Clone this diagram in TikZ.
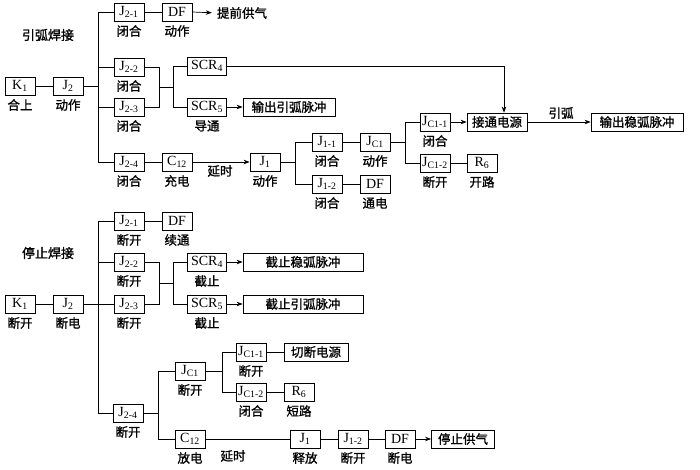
\documentclass[tikz,border=0pt]{standalone}
\usepackage{fontspec}
\setmainfont{Liberation Serif}
\newfontfamily\cjk{Noto Sans CJK SC}[FakeBold=1.2]
\usetikzlibrary{arrows.meta,calc}
\newcommand\jb[4]{\node[box] (#1) at (#2) {#3}; \node[lbl] (#1l) at ($(#1)+(0,19)$) {#4};}
\begin{document}
\begin{tikzpicture}[x=1pt,y=-1pt,
  box/.style={draw,line width=0.8pt,minimum width=30pt,minimum height=18pt,inner sep=1pt,font=\fontsize{14}{14}\selectfont},
  cbox/.style={draw,line width=0.8pt,minimum height=18pt,inner sep=1pt,font=\cjk\fontsize{12.5}{12.5}\selectfont},
  lbl/.style={inner sep=0pt,font=\cjk\fontsize{12.5}{12.5}\selectfont},
  ttl/.style={inner sep=0pt,font=\cjk\fontsize{13}{13}\selectfont},
  ln/.style={line width=0.7pt},
  arr/.style={ln,-{Stealth[length=6pt,width=4.5pt]}},
]
\fill[white] (0,0) rectangle (700,470);
\useasboundingbox (0,0) rectangle (700,470);

% ---------------- top: 引弧焊接 ----------------
\node[ttl] (t1) at (48,35) {引弧焊接};
\jb{K1a}{20,86}{K\textsubscript{1}}{合上}
\jb{J2a}{68,86}{J\textsubscript{2}}{动作}
\jb{J21a}{129,12}{J\textsubscript{2-1}}{闭合}
\jb{DFa}{177,12}{DF}{动作}
\node[lbl] (gas1) at (242,13) {提前供气};
\jb{J22a}{129,67}{J\textsubscript{2-2}}{闭合}
\jb{J23a}{129,107}{J\textsubscript{2-3}}{闭合}
\node[box,minimum width=39pt] (S4a) at (207,66) {SCR\textsubscript{4}};
\node[box,minimum width=39pt] (S5a) at (207,107) {SCR\textsubscript{5}};
\node[lbl] (S5al) at (207,126) {导通};
\node[cbox,minimum width=92pt] (outA) at (289,107) {输出引弧脉冲};
\jb{J24a}{129,162}{J\textsubscript{2-4}}{闭合}
\jb{C12a}{177,162}{C\textsubscript{12}}{充电}
\jb{J1a}{265,162}{J\textsubscript{1}}{动作}
\node[lbl] (d1) at (220,171) {延时};
\jb{J11a}{327,142}{J\textsubscript{1-1}}{闭合}
\jb{J12a}{327,184}{J\textsubscript{1-2}}{闭合}
\jb{JC1a}{375,142}{J\textsubscript{C1}}{动作}
\jb{DFb}{375,184}{DF}{通电}
\jb{JC11a}{435,122}{J\textsubscript{C1-1}}{闭合}
\jb{JC12a}{435,163}{J\textsubscript{C1-2}}{断开}
\jb{R6a}{482,163}{R\textsubscript{6}}{开路}
\node[cbox,minimum width=60pt] (pw) at (497,122) {接通电源};
\node[cbox,minimum width=92pt] (outB) at (637,122) {输出稳弧脉冲};
\node[lbl] (yh) at (561,113) {引弧};

\coordinate (trA) at (98,86);
\draw[ln] (K1a) -- (J2a);
\draw[ln] (J2a.east) -- (trA);
\draw[ln] (J21a.west) -| (trA);
\draw[ln] (J24a.west) -| (trA);
\draw[ln] (J22a.west) -- (J22a.west -| trA);
\draw[ln] (J23a.west) -- (J23a.west -| trA);
\draw[ln] (J21a) -- (DFa);
\draw[arr,shorten >=5pt] (DFa.east) -- (gas1.west);
\coordinate (jA) at (159,87);
\coordinate (jA2) at (173,87);
\draw[ln] (J22a.east) -| (jA);
\draw[ln] (J23a.east) -| (jA);
\draw[ln] (jA) -- (jA2);
\draw[ln] (S4a.west) -| (jA2);
\draw[ln] (S5a.west) -| (jA2);
\draw[arr] (S5a.east) -- (outA.west);
\coordinate (pwin) at ($(pw.north)+(7,0)$);
\draw[arr] (S4a.east) -| (pwin);
\draw[ln] (J24a) -- (C12a);
\draw[arr] (C12a.east) -- (J1a.west);
\coordinate (jB) at (295,162);
\draw[ln] (J1a.east) -- (jB);
\draw[ln] (J11a.west) -| (jB);
\draw[ln] (J12a.west) -| (jB);
\draw[ln] (J11a) -- (JC1a);
\draw[ln] (J12a) -- (DFb);
\coordinate (jC) at (405,142);
\draw[ln] (JC1a.east) -- (jC);
\draw[ln] (JC11a.west) -| (jC);
\draw[ln] (JC12a.west) -| (jC);
\draw[arr] (JC11a.east) -- (pw.west);
\draw[ln] (JC12a) -- (R6a);
\draw[arr] (pw.east) -- (outB.west);

% ---------------- bottom: 停止焊接 ----------------
\node[ttl] (t2) at (48,253) {停止焊接};
\jb{K1b}{20,304}{K\textsubscript{1}}{断开}
\jb{J2b}{68,304}{J\textsubscript{2}}{断电}
\jb{J21b}{129,221}{J\textsubscript{2-1}}{断开}
\jb{DFc}{177,221}{DF}{续通}
\jb{J22b}{129,262}{J\textsubscript{2-2}}{断开}
\jb{J23b}{129,304}{J\textsubscript{2-3}}{断开}
\node[box,minimum width=39pt] (S4b) at (207,262) {SCR\textsubscript{4}};
\node[lbl] (S4bl) at (207,281) {截止};
\node[box,minimum width=39pt] (S5b) at (207,304) {SCR\textsubscript{5}};
\node[lbl] (S5bl) at (207,323) {截止};
\node[cbox,minimum width=120pt] (cut1) at (303,262) {截止稳弧脉冲};
\node[cbox,minimum width=120pt] (cut2) at (303,304) {截止引弧脉冲};
\jb{J24b}{128,413}{J\textsubscript{2-4}}{断开}
\jb{JC1b}{190,371}{J\textsubscript{C1}}{断开}
\jb{C12b}{190,439}{C\textsubscript{12}}{放电}
\jb{JC11b}{251,352}{J\textsubscript{C1-1}}{断开}
\node[cbox,minimum width=64pt] (cutpw) at (316,352) {切断电源};
\jb{JC12b}{251,392}{J\textsubscript{C1-2}}{闭合}
\jb{R6b}{299,392}{R\textsubscript{6}}{短路}
\node[lbl] (d2) at (233,456) {延时};
\jb{J1b}{305,439}{J\textsubscript{1}}{释放}
\jb{J12b}{353,439}{J\textsubscript{1-2}}{断开}
\jb{DFd}{400,439}{DF}{断电}
\node[cbox,minimum width=63pt] (stop) at (463,439) {停止供气};

\coordinate (trB) at (98,304);
\draw[ln] (K1b) -- (J2b);
\draw[ln] (J2b.east) -- (trB);
\draw[ln] (J21b.west) -| (trB);
\draw[ln] (J24b.west) -| (trB);
\draw[ln] (J22b.west) -- (J22b.west -| trB);
\draw[ln] (J23b.west) -- (trB);
\draw[ln] (J21b) -- (DFc);
\coordinate (jD) at (159,283);
\coordinate (jD2) at (173,283);
\draw[ln] (J22b.east) -| (jD);
\draw[ln] (J23b.east) -| (jD);
\draw[ln] (jD) -- (jD2);
\draw[ln] (S4b.west) -| (jD2);
\draw[ln] (S5b.west) -| (jD2);
\draw[arr] (S4b.east) -- (cut1.west);
\draw[arr] (S5b.east) -- (cut2.west);
\coordinate (jE) at (158,413);
\draw[ln] (J24b.east) -- (jE);
\draw[ln] (JC1b.west) -| (jE);
\draw[ln] (C12b.west) -| (jE);
\coordinate (jF) at (222,371);
\draw[ln] (JC1b.east) -- (jF);
\draw[ln] (JC11b.west) -| (jF);
\draw[ln] (JC12b.west) -| (jF);
\draw[ln] (JC11b) -- (cutpw);
\draw[ln] (JC12b) -- (R6b);
\draw[ln] (C12b) -- (J1b);
\draw[ln] (J1b) -- (J12b);
\draw[ln] (J12b) -- (DFd);
\draw[arr] (DFd.east) -- (stop.west);
\end{tikzpicture}
\end{document}
